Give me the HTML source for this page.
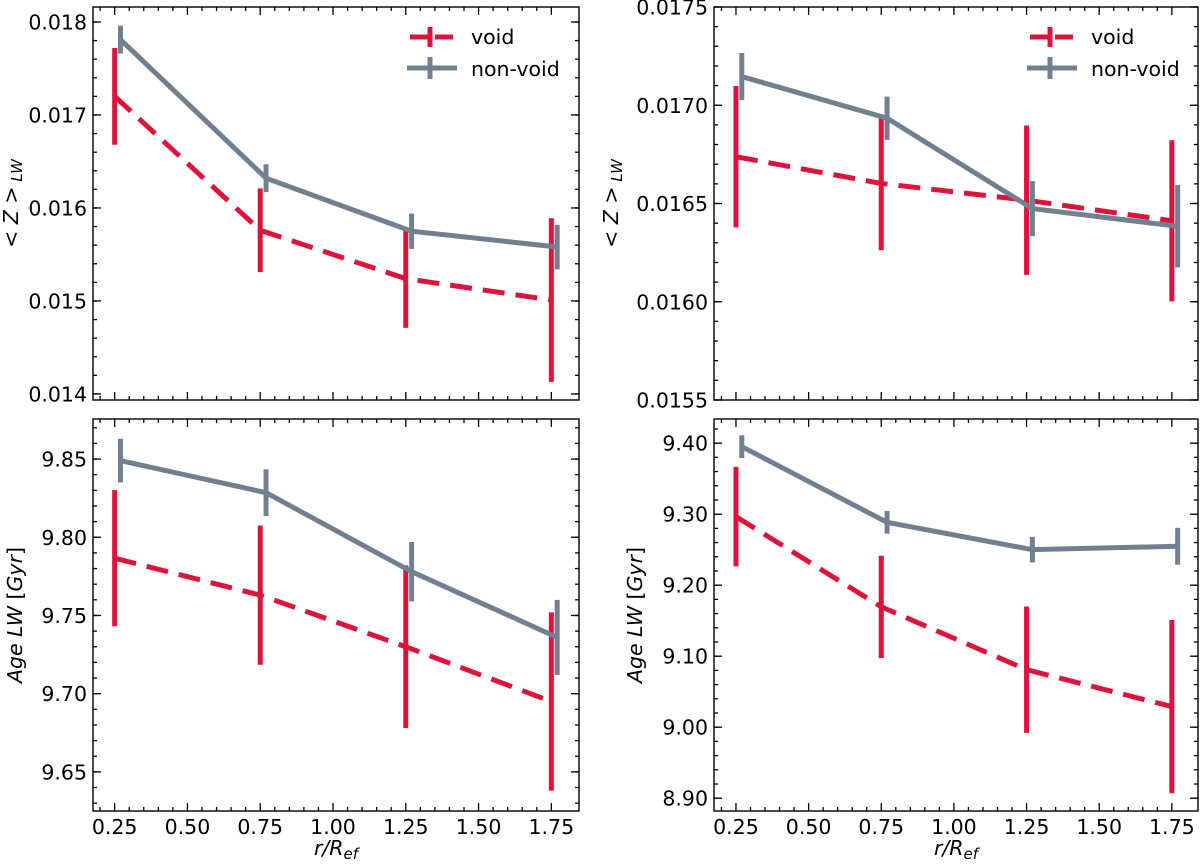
<!DOCTYPE html>
<html><head><meta charset="utf-8"><style>
html,body{margin:0;padding:0;background:#fff}
svg{display:block;font-family:"DejaVu Sans","Liberation Sans",sans-serif}
</style></head><body>
<svg id="chart" width="1200" height="864" viewBox="0 0 1200 864" xmlns="http://www.w3.org/2000/svg"></svg>
<script>
const radii = [0.25, 0.75, 1.25, 1.75];
const xOffsetNonVoid = 0.02;
const xTicks = [0.25, 0.5, 0.75, 1.0, 1.25, 1.5, 1.75];
const xTickLabels = ["0.25","0.50","0.75","1.00","1.25","1.50","1.75"];

const zVoidLeft = [0.01720, 0.01576, 0.01524, 0.01501];
const zVoidLeftErr = [0.00052, 0.00045, 0.00053, 0.00088];
const zNonLeft = [0.01781, 0.01632, 0.01575, 0.01558];
const zNonLeftErr = [0.00015, 0.00015, 0.00019, 0.00024];
const zLeftTicks = [0.014, 0.015, 0.016, 0.017, 0.018];
const zLeftTickLabels = ["0.014","0.015","0.016","0.017","0.018"];

const ageVoidLeft = [9.7866, 9.763, 9.730, 9.695];
const ageVoidLeftErr = [0.0435, 0.0445, 0.052, 0.057];
const ageNonLeft = [9.849, 9.8285, 9.778, 9.736];
const ageNonLeftErr = [0.014, 0.015, 0.019, 0.024];
const ageLeftTicks = [9.65, 9.70, 9.75, 9.80, 9.85];
const ageLeftTickLabels = ["9.65","9.70","9.75","9.80","9.85"];

const zVoidRight = [0.016738, 0.016602, 0.016517, 0.016412];
const zVoidRightErr = [0.00036, 0.00034, 0.00038, 0.00041];
const zNonRight = [0.017146, 0.016934, 0.016474, 0.016384];
const zNonRightErr = [0.00012, 0.00011, 0.00014, 0.00021];
const zRightTicks = [0.0155, 0.0160, 0.0165, 0.0170, 0.0175];
const zRightTickLabels = ["0.0155","0.0160","0.0165","0.0170","0.0175"];

const ageVoidRight = [9.2965, 9.1695, 9.081, 9.029];
const ageVoidRightErr = [0.070, 0.072, 0.089, 0.122];
const ageNonRight = [9.395, 9.2885, 9.250, 9.2548];
const ageNonRightErr = [0.016, 0.016, 0.018, 0.026];
const ageRightTicks = [8.90, 9.00, 9.10, 9.20, 9.30, 9.40];
const ageRightTickLabels = ["8.90","9.00","9.10","9.20","9.30","9.40"];

const NS = "http://www.w3.org/2000/svg";
const svg = document.getElementById("chart");
const RED = "#dc143c", GRAY = "#708090";
const FS = 20.5;

function mk(tag, attrs, parent) {
  const e = document.createElementNS(NS, tag);
  for (const k in attrs) e.setAttribute(k, attrs[k]);
  (parent || svg).appendChild(e);
  return e;
}

function panel(cfg) {
  const g = mk("g", {});
  
  
  const L = cfg.left, R = cfg.right, T = cfg.top, B = cfg.bottom;
  const xs = v => L + (v - cfg.xmin) / (cfg.xmax - cfg.xmin) * (R - L);
  const ys = v => B - (v - cfg.ymin) / (cfg.ymax - cfg.ymin) * (B - T);
  const tg = mk("g", {stroke: "#000", "stroke-width": 1.3}, g);
  
  
  for (let i = 0; i <= 35; i++) {
    const v = i * 0.05;
    if (v < cfg.xmin - 1e-9 || v > cfg.xmax + 1e-9) continue;
    const major = Math.abs(v / 0.25 - Math.round(v / 0.25)) < 1e-6;
    const len = major ? 8 : 4;
    const x = xs(v);
    mk("line", {x1: x, x2: x, y1: B, y2: B - len}, tg);
    mk("line", {x1: x, x2: x, y1: T, y2: T + len}, tg);
  }
  const nMinor = Math.round((cfg.ymax - cfg.ymin) / cfg.minor) + 2;
  const start = Math.ceil(cfg.ymin / cfg.minor - 1e-6);
  for (let i = start; i <= start + nMinor; i++) {
    const v = i * cfg.minor;
    if (v > cfg.ymax + 1e-12) break;
    const y = ys(v);
    mk("line", {x1: L, x2: L + 4, y1: y, y2: y}, tg);
    mk("line", {x1: R, x2: R - 4, y1: y, y2: y}, tg);
  }
  cfg.yTicks.forEach((v, i) => {
    const y = ys(v);
    mk("line", {x1: L, x2: L + 8, y1: y, y2: y}, tg);
    mk("line", {x1: R, x2: R - 8, y1: y, y2: y}, tg);
    const t = mk("text", {x: L - 6, y: y + 7.5, "text-anchor": "end", "font-size": FS}, g);
    t.textContent = cfg.yTickLabels[i];
    
    
  });
  if (cfg.showX) {
    xTicks.forEach((v, i) => {
      const t = mk("text", {x: xs(v), y: B + 23, "text-anchor": "middle", "font-size": FS}, g);
      t.textContent = xTickLabels[i];
      
      
    });
    const xl = mk("text", {x: (L + R) / 2, y: 855, "text-anchor": "middle", "font-size": FS, "font-style": "italic"}, g);
    xl.innerHTML = 'r/R<tspan font-size="15" dy="4">ef</tspan>';
    
    
  }
  const yl = mk("text", {x: 0, y: 0, "text-anchor": "middle", "font-size": FS, transform: `translate(${cfg.ylx},${(T + B) / 2}) rotate(-90)`}, g);
  yl.innerHTML = cfg.ylabel;
  
  
  function series(vals, errs, off, color, dash, nm) {
    const sg = mk("g", {}, g);
    
    
    const pts = radii.map((r, i) => xs(r + off) + "," + ys(vals[i])).join(" ");
    const pl = mk("polyline", {points: pts, fill: "none", stroke: color, "stroke-width": 5, "stroke-dasharray": dash || "none"}, sg);
    
    
    radii.forEach((r, i) => {
      const x = xs(r + off);
      const eb = mk("line", {x1: x, x2: x, y1: ys(vals[i] + errs[i]), y2: ys(vals[i] - errs[i]), stroke: color, "stroke-width": 5}, sg);
      
      
    });
  }
  series(cfg.voidV, cfg.voidE, 0, RED, "22,11", "void-series");
  series(cfg.nonV, cfg.nonE, xOffsetNonVoid, GRAY, null, "non-void-series");
  const fr = mk("rect", {x: L, y: T, width: R - L, height: B - T, fill: "none", stroke: "#000", "stroke-width": 1.4}, g);
  
  
  if (cfg.legendX) {
    const lg = mk("g", {}, g);
    
    
    const lx = cfg.legendX;
    const e1 = mk("g", {}, lg);
    
    
    mk("line", {x1: lx, x2: lx + 44, y1: 37, y2: 37, stroke: RED, "stroke-width": 5, "stroke-dasharray": "18,7"}, e1);
    mk("line", {x1: lx + 20, x2: lx + 20, y1: 27, y2: 47, stroke: RED, "stroke-width": 5}, e1);
    const t1 = mk("text", {x: lx + 61, y: 44, "font-size": FS}, e1);
    t1.textContent = "void";
    const e2 = mk("g", {}, lg);
    
    
    mk("line", {x1: lx - 3, x2: lx + 47, y1: 68, y2: 68, stroke: GRAY, "stroke-width": 5}, e2);
    mk("line", {x1: lx + 20, x2: lx + 20, y1: 57, y2: 79, stroke: GRAY, "stroke-width": 5}, e2);
    const t2 = mk("text", {x: lx + 61, y: 76, "font-size": FS}, e2);
    t2.textContent = "non-void";
  }
}

const zLabel = '&lt; <tspan font-style="italic">Z</tspan> &gt;<tspan font-size="15" font-style="italic" dy="4"> LW</tspan>';
const ageLabel = '<tspan font-style="italic">Age LW</tspan> [<tspan font-style="italic">Gyr</tspan>]';

panel({name: "panel-z-left", left: 93, right: 579, top: 7, bottom: 400, xmin: 0.1756, xmax: 1.845,
  ymin: 0.013935, ymax: 0.018161, minor: 0.0002, yTicks: zLeftTicks, yTickLabels: zLeftTickLabels,
  voidV: zVoidLeft, voidE: zVoidLeftErr, nonV: zNonLeft, nonE: zNonLeftErr, ylabel: zLabel, ylx: 18, legendX: 410});
panel({name: "panel-age-left", left: 93, right: 579, top: 419, bottom: 811, xmin: 0.1756, xmax: 1.845,
  ymin: 9.625, ymax: 9.8756, minor: 0.01, yTicks: ageLeftTicks, yTickLabels: ageLeftTickLabels,
  voidV: ageVoidLeft, voidE: ageVoidLeftErr, nonV: ageNonLeft, nonE: ageNonLeftErr, ylabel: ageLabel, ylx: 22, showX: true});
panel({name: "panel-z-right", left: 714, right: 1198, top: 7, bottom: 400, xmin: 0.1744, xmax: 1.84,
  ymin: 0.0155, ymax: 0.0175, minor: 0.0001, yTicks: zRightTicks, yTickLabels: zRightTickLabels,
  voidV: zVoidRight, voidE: zVoidRightErr, nonV: zNonRight, nonE: zNonRightErr, ylabel: zLabel, ylx: 618, legendX: 1030});
panel({name: "panel-age-right", left: 714, right: 1198, top: 419, bottom: 811, xmin: 0.1744, xmax: 1.84,
  ymin: 8.882, ymax: 9.434, minor: 0.02, yTicks: ageRightTicks, yTickLabels: ageRightTickLabels,
  voidV: ageVoidRight, voidE: ageVoidRightErr, nonV: ageNonRight, nonE: ageNonRightErr, ylabel: ageLabel, ylx: 642, showX: true});
</script>
</body></html>
